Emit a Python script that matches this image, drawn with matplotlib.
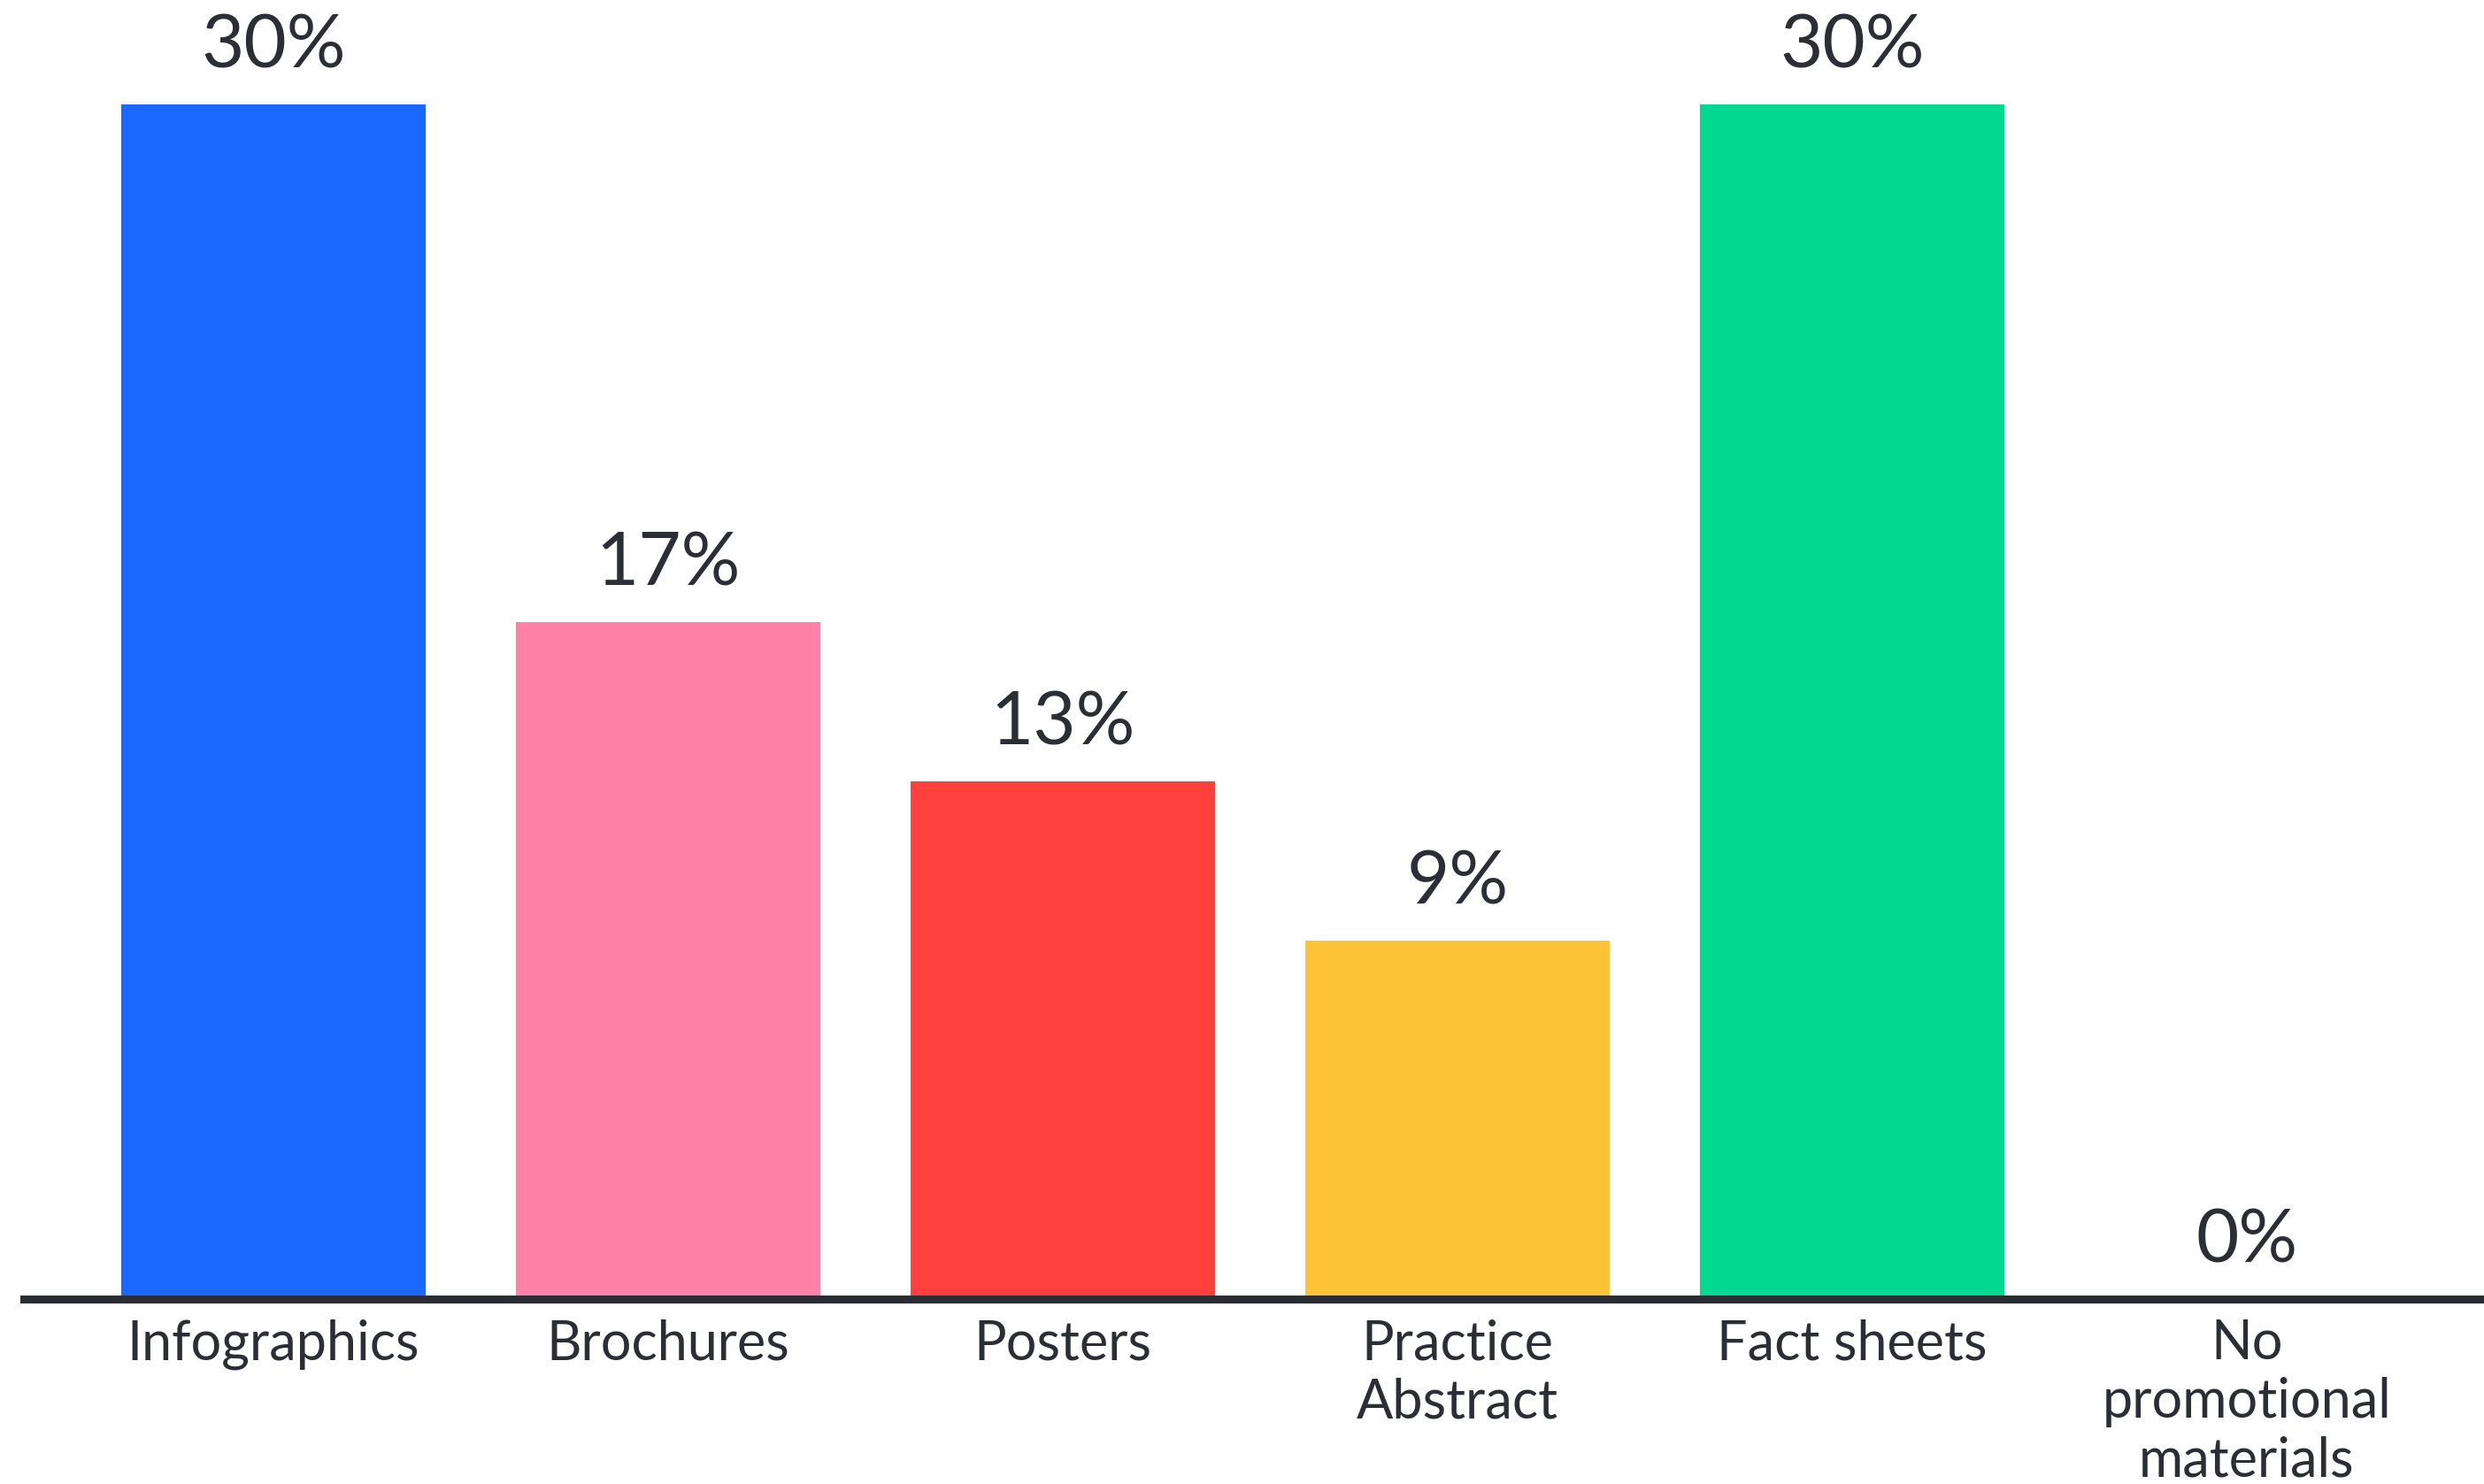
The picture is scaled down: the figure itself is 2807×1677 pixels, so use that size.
import matplotlib
matplotlib.use("Agg")
import matplotlib.pyplot as plt

categories = ["Infographics", "Brochures", "Posters", "Practice\nAbstract",
              "Fact sheets", "No\npromotional\nmaterials"]
values = [30, 17, 13, 9, 30, 0]
value_labels = ["30%", "17%", "13%", "9%", "30%", "0%"]
colors = ["#1a68ff", "#ff80a8", "#ff403d", "#ffc337", "#00d98f", "#cccccc"]

W, H, DPI = 2807, 1677, 100
fig = plt.figure(figsize=(W / DPI, H / DPI), dpi=DPI)
fig.patch.set_facecolor("white")

left_px = 27
base_px = 1468
top_px = 118
ax = fig.add_axes([left_px / W, (H - base_px) / H,
                   1 - left_px / W, (base_px - top_px) / H])

x = list(range(len(categories)))
ax.bar(x, values, width=0.77, color=colors, zorder=2)

ax.set_xlim(-0.632, 5.601)
ax.set_ylim(0, 30)

text_color = "#2b2e34"
font = "Lato"

for xi, v, lab in zip(x, values, value_labels):
    ax.annotate(lab, (xi, v), xytext=(0, 19), textcoords="offset points",
                ha="center", va="bottom", fontsize=60, color=text_color,
                family=font, annotation_clip=False)

for xi, cat in zip(x, categories):
    ax.annotate(cat, (xi, 0), xytext=(0, -16), textcoords="offset points",
                ha="center", va="top", fontsize=44, color=text_color,
                family=font, linespacing=1.2, annotation_clip=False)

for s in ["top", "right", "left"]:
    ax.spines[s].set_visible(False)
ax.spines["bottom"].set_color("#2a2d33")
ax.spines["bottom"].set_linewidth(6.5)
ax.spines["bottom"].set_zorder(3)
ax.set_xticks([])
ax.set_yticks([])
ax.patch.set_alpha(0)

fig.savefig("out.png", dpi=DPI, facecolor="white")
